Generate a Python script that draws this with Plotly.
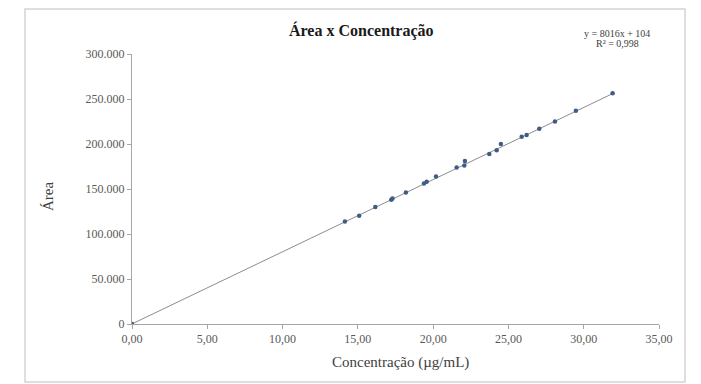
import plotly.graph_objects as go

# Data
conc = [0.00, 14.14, 15.09, 16.16, 17.22, 17.30, 18.19, 19.39, 19.57, 20.19, 21.56, 22.07, 22.11,
        23.73, 24.22, 24.50, 25.88, 26.21, 27.05, 28.09, 29.48, 31.92]
area = [0, 114000, 120300, 130000, 138000, 139500, 146000, 156000, 158000, 164000, 174000, 176000, 181000,
        189000, 193000, 200000, 208000, 210000, 217000, 225000, 237000, 256500]

slope = 8016
intercept = 104
r2_text = "R² = 0,998"
eq_text = "y = 8016x + 104"

x_ticks = [0, 5, 10, 15, 20, 25, 30, 35]
y_ticks = [0, 50000, 100000, 150000, 200000, 250000, 300000]

trend_x = [min(conc), max(conc)]
trend_y = [slope * v + intercept for v in trend_x]

SERIF = "Liberation Serif, Times New Roman, serif"

fig = go.Figure()
fig.add_trace(go.Scatter(x=trend_x, y=trend_y, mode="lines",
                         line=dict(color="#8c8c8c", width=1), hoverinfo="skip",
                         showlegend=False))
fig.add_trace(go.Scatter(x=conc, y=area, mode="markers",
                         marker=dict(color="#3e5c86", size=4.5, symbol="circle"),
                         showlegend=False))

OFF = 8  # page body margin offset
W, H = 701, 384
L = 132 - OFF
T = 54 - OFF
R = W - (659 - OFF)
B = H - (324 - OFF)
pw, ph = W - L - R, H - T - B

def px(xp):
    return (xp - OFF - L) / pw

def py(yp):
    return (H - B - (yp - OFF)) / ph

fig.update_layout(
    width=W, height=H,
    margin=dict(l=L, r=R, t=T, b=B, pad=0),
    paper_bgcolor="white", plot_bgcolor="white",
    separators=",.",
    font=dict(family=SERIF, color="#595959", size=12),
    xaxis=dict(range=[0, 35], tickvals=x_ticks, tickformat=".2f",
               showgrid=False, zeroline=False, showline=True,
               linecolor="#a6a6a6", linewidth=1, ticks="outside", ticklen=4,
               tickcolor="#a6a6a6", tickfont=dict(size=12, color="#595959")),
    yaxis=dict(range=[0, 300000], tickvals=y_ticks, tickformat=",.0f",
               showgrid=False, zeroline=False, showline=True,
               linecolor="#a6a6a6", linewidth=1, ticks="outside", ticklen=4,
               tickcolor="#a6a6a6", tickfont=dict(size=12, color="#595959")),
    shapes=[dict(type="rect", xref="paper", yref="paper",
                 x0=px(25), x1=px(685), y0=py(382), y1=py(9),
                 line=dict(color="#d4d4d4", width=1.5), fillcolor="rgba(0,0,0,0)",
                 layer="below")],
    annotations=[
        dict(text="<b>Área x Concentração</b>", xref="paper", yref="paper",
             x=px(361), y=py(31), showarrow=False, xanchor="center", yanchor="middle",
             font=dict(family=SERIF, size=16, color="#1a1a1a")),
        dict(text="Concentração (µg/mL)", xref="paper", yref="paper",
             x=px(400), y=py(362), showarrow=False, xanchor="center", yanchor="middle",
             font=dict(family=SERIF, size=15, color="#404040")),
        dict(text="Área", xref="paper", yref="paper", textangle=-90,
             x=px(48), y=py(197), showarrow=False, xanchor="center", yanchor="middle",
             font=dict(family=SERIF, size=15, color="#404040")),
        dict(text=eq_text, xref="paper", yref="paper",
             x=px(617), y=py(34), showarrow=False, xanchor="center", yanchor="middle",
             font=dict(family=SERIF, size=10, color="#404040")),
        dict(text=r2_text, xref="paper", yref="paper",
             x=px(617), y=py(43), showarrow=False, xanchor="center", yanchor="middle",
             font=dict(family=SERIF, size=10, color="#404040")),
    ],
)

fig.write_html("out.html")
